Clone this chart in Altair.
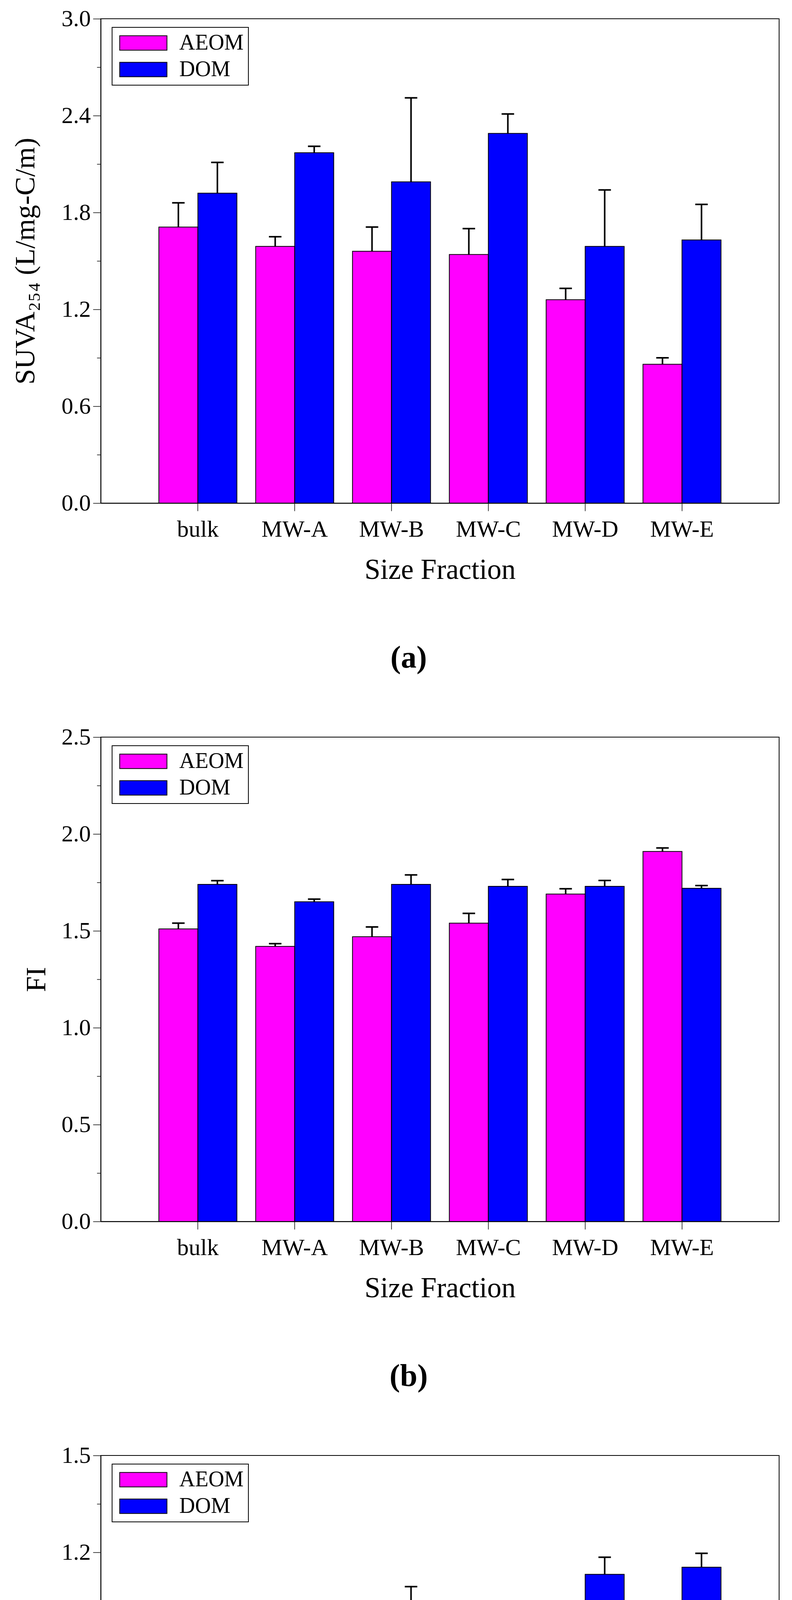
import altair as alt
import pandas as pd

FONT = "Liberation Serif"

categories = ["bulk", "MW-A", "MW-B", "MW-C", "MW-D", "MW-E"]
series = ["AEOM", "DOM"]
colors = ["#FF00FF", "#0000FF"]

# (a) SUVA254
suva_aeom = [1.71, 1.59, 1.56, 1.54, 1.26, 0.86]
suva_aeom_err = [0.15, 0.06, 0.15, 0.16, 0.07, 0.04]
suva_dom = [1.92, 2.17, 1.99, 2.29, 1.59, 1.63]
suva_dom_err = [0.19, 0.04, 0.52, 0.12, 0.35, 0.22]
suva_ticks = [0.0, 0.3, 0.6, 0.9, 1.2, 1.5, 1.8, 2.1, 2.4, 2.7, 3.0]

# (b) FI
fi_aeom = [1.51, 1.42, 1.47, 1.54, 1.69, 1.91]
fi_aeom_err = [0.03, 0.014, 0.05, 0.05, 0.027, 0.018]
fi_dom = [1.74, 1.65, 1.74, 1.73, 1.73, 1.72]
fi_dom_err = [0.019, 0.014, 0.049, 0.035, 0.03, 0.014]
fi_ticks = [0.0, 0.25, 0.5, 0.75, 1.0, 1.25, 1.5, 1.75, 2.0, 2.25, 2.5]

# (c) BIX
bix_aeom = [0.855, 0.830, 0.815, 0.829, 0.893, 0.963]
bix_aeom_err = [0.017, 0.019, 0.011, 0.004, 0.023, 0.020]
bix_dom = [0.953, 0.973, 0.999, 0.972, 1.132, 1.154]
bix_dom_err = [0.019, 0.040, 0.095, 0.048, 0.053, 0.043]
bix_ticks = [0.0, 0.15, 0.3, 0.45, 0.6, 0.75, 0.9, 1.05, 1.2, 1.35, 1.5]


def make_df(aeom, aeom_err, dom, dom_err):
    rows = []
    for i, c in enumerate(categories):
        rows.append({"cat": c, "series": "AEOM", "value": aeom[i], "upper": aeom[i] + aeom_err[i]})
        rows.append({"cat": c, "series": "DOM", "value": dom[i], "upper": dom[i] + dom_err[i]})
    return pd.DataFrame(rows)


def panel(df, ticks, ytitle, ytitle_pad, caption):
    ymax = ticks[-1]
    major_step = ticks[2]
    major_test = f"abs(datum.value / {major_step} - round(datum.value / {major_step})) < 0.001"
    x = alt.X(
        "cat:N",
        sort=categories,
        scale=alt.Scale(paddingInner=0.194, paddingOuter=0.6),
        axis=alt.Axis(
            title="Size Fraction",
            labelAngle=0,
            tickSize=20,
            tickWidth=1.5,
            tickColor="black",
            domainColor="black",
            domainWidth=2,
            labelFont=FONT,
            labelFontSize=60,
            labelColor="black",
            labelPadding=18,
            titleFont=FONT,
            titleFontSize=73,
            titleFontWeight="normal",
            titleColor="black",
            titlePadding=38,
        ),
    )
    y = alt.Y(
        "value:Q",
        scale=alt.Scale(domain=[0, ymax], nice=False, zero=True),
        axis=alt.Axis(
            title=ytitle,
            values=ticks,
            labelExpr=f"({major_test}) ? format(datum.value, '.1f') : ''",
            tickSize={"condition": {"test": major_test, "value": 20}, "value": 10},
            tickWidth=1.5,
            tickColor="black",
            domainColor="black",
            domainWidth=2,
            grid=False,
            labelFont=FONT,
            labelFontSize=60,
            labelColor="black",
            labelPadding=6,
            labelOverlap=False,
            labelFlush=False,
            titleFont=FONT,
            titleFontSize=72,
            titleFontWeight="normal",
            titleColor="black",
            titlePadding=ytitle_pad,
        ),
    )
    xoff = alt.XOffset("series:N", sort=series, scale=alt.Scale(paddingInner=0, paddingOuter=0))

    bars = alt.Chart(df).mark_bar(stroke="black", strokeWidth=2).encode(
        x=x,
        y=y,
        xOffset=xoff,
        color=alt.Color(
            "series:N",
            scale=alt.Scale(domain=series, range=colors),
            legend=alt.Legend(
                title=None,
                orient="none",
                legendX=29,
                legendY=22,
                direction="vertical",
                symbolType="M-3.27,-1H3.27V1H-3.27Z",
                symbolSize=1369,
                symbolOffset=40,
                symbolStrokeColor="black",
                symbolStrokeWidth=2,
                symbolOpacity=1,
                labelOffset=64,
                labelFont=FONT,
                labelFontSize=56,
                labelColor="black",
                labelLimit=500,
                rowPadding=12,
                padding=12,
                strokeColor="black",
                fillColor="white",
            ),
        ),
    )
    err = alt.Chart(df).mark_rule(color="black", strokeWidth=4).encode(
        x=alt.X("cat:N", sort=categories),
        xOffset=xoff,
        y=alt.Y("value:Q"),
        y2="upper:Q",
    )
    caps = alt.Chart(df).mark_tick(color="black", thickness=4, size=32, opacity=1).encode(
        x=alt.X("cat:N", sort=categories),
        xOffset=xoff,
        y=alt.Y("upper:Q"),
    )
    return alt.layer(bars, err, caps).properties(
        width=1737,
        height=1240,
        title=alt.TitleParams(
            text=caption,
            orient="bottom",
            anchor="middle",
            frame="group",
            dx=-80,
            offset=150,
            font=FONT,
            fontSize=80,
            fontWeight="bold",
            color="black",
        ),
    )


pa = panel(make_df(suva_aeom, suva_aeom_err, suva_dom, suva_dom_err), suva_ticks,
           "SUVA\u2082\u2085\u2084 (L/mg-C/m)", 55, "(a)")
pb = panel(make_df(fi_aeom, fi_aeom_err, fi_dom, fi_dom_err), fi_ticks, "FI", 27, "(b)")
pc = panel(make_df(bix_aeom, bix_aeom_err, bix_dom, bix_dom_err), bix_ticks, "BIX", 27, "(c)")

chart = (
    alt.vconcat(pa, pb, pc, spacing=130)
    .resolve_scale(color="independent", x="independent", y="independent")
    .properties(padding={"left": 20, "top": 9, "right": 5, "bottom": 2}, background="white")
    .configure_view(stroke="black", strokeWidth=2)
    .configure_legend(strokeWidth=2)
    .configure_tick(bandSize=32)
)

chart.save("out.html", embed_options={"renderer": "svg", "actions": False})
